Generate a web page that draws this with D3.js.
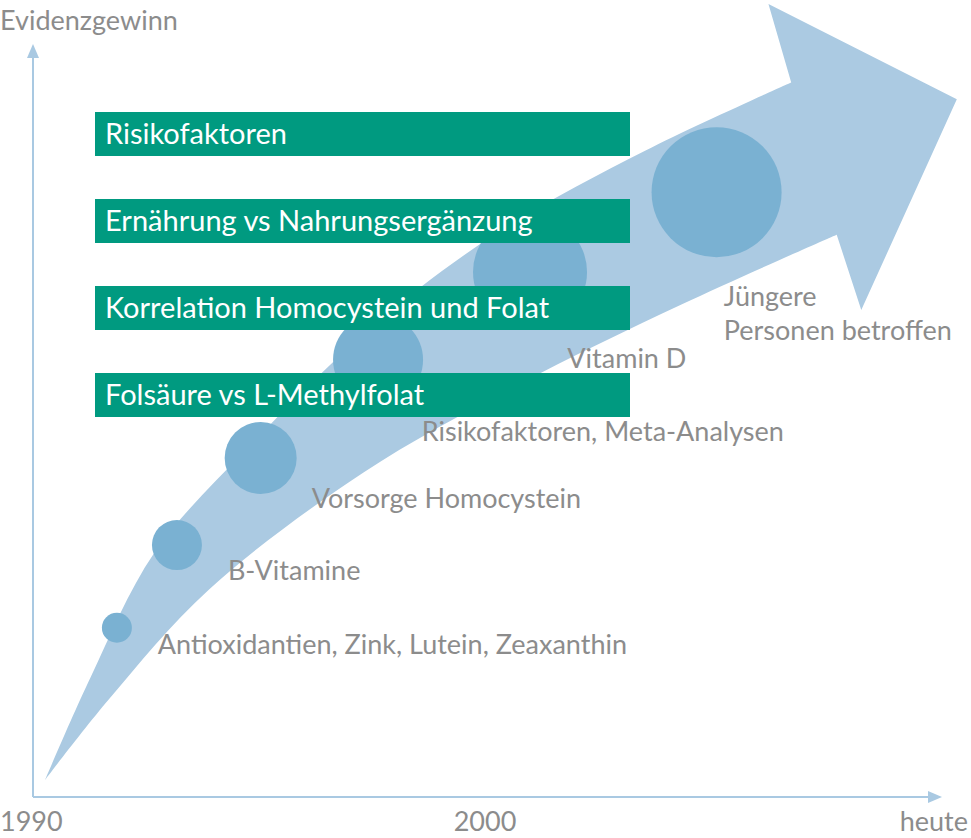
<!DOCTYPE html>
<html><head><meta charset="utf-8">
<script src="https://cdn.jsdelivr.net/npm/d3@7"></script>
<style>body{margin:0;background:#fff}text{font-family:"Source Sans Pro",Lato,sans-serif}</style>
</head><body><div id="chart"></div>
<script>
// data in pixel-free units: x = time position (0..100), y = evidence (0..100)
const upperEdge = [[0,0],[5,14],[12,31],[22,45],[36,62],[50,75],[66,86],[82,95.3]];
const lowerEdge = [[0,0],[7,11],[18,26],[35,42],[52,54],[70,65],[87,74.5]];
const arrowHead = [[82,95.3],[79.5,106],[100.2,93],[89.7,64.2],[87,74.5]];
const circles = [[7.9,20.8,15],[14.5,32.1,25],[23.7,44,36],[36.6,57.4,45],[53.3,69.4,57],[73.8,80.3,65]];
const circleLabels = [
  {x:12.4, y:17.2, lines:["Antioxidantien, Zink, Lutein, Zeaxanthin"]},
  {x:20.1, y:27.3, lines:["B-Vitamine"]},
  {x:29.3, y:37.2, lines:["Vorsorge Homocystein"]},
  {x:41.4, y:46.3, lines:["Risikofaktoren, Meta-Analysen"]},
  {x:57.4, y:56.3, lines:["Vitamin D"]},
  {x:74.6, y:64.8, lines:["Jüngere","Personen betroffen"]}
];
const bars = ["Risikofaktoren","Ernährung vs Nahrungsergänzung","Korrelation Homocystein und Folat","Folsäure vs L-Methylfolat"];
const tickLabels = ["1990","2000","heute"];

const W=971,H=838;
const x=d3.scaleLinear().domain([0,100]).range([45,955]);
const y=d3.scaleLinear().domain([0,100]).range([780,48]);
const svg=d3.select("#chart").append("svg").attr("width",W).attr("height",H);

const line=d3.line().x(d=>x(d[0])).y(d=>y(d[1])).curve(d3.curveCatmullRom);
const pathU=line(upperEdge);
const pathL=line(lowerEdge.slice().reverse());
const head=arrowHead.slice(1,4).map(d=>"L"+x(d[0])+","+y(d[1])).join("");
svg.append("path").attr("d",pathU+head+"L"+pathL.slice(1)+"Z").attr("fill","#abcae2");

svg.selectAll("circle.c").data(circles).enter().append("circle")
  .attr("cx",d=>x(d[0])).attr("cy",d=>y(d[1])).attr("r",d=>d[2]).attr("fill","#7ab1d2");

circleLabels.forEach(l=>{
  const t=svg.append("text").attr("x",x(l.x)).attr("y",y(l.y)).attr("font-size",27).attr("fill","#8c8c8c");
  l.lines.forEach((s,i)=>t.append("tspan").attr("x",x(l.x)).attr("dy",i?34:0).text(s));
});

bars.forEach((b,i)=>{
  const top=112+i*87;
  svg.append("rect").attr("x",95).attr("y",top).attr("width",535).attr("height",44).attr("fill","#009a80");
  svg.append("text").attr("x",105).attr("y",top+32).attr("font-size",29).attr("fill","#fff").text(b);
});

// axes
const ax="#a9c9e2";
svg.append("line").attr("x1",33).attr("y1",797).attr("x2",33).attr("y2",52).attr("stroke",ax).attr("stroke-width",2);
svg.append("path").attr("d","M27,58L33,44L39,58Z").attr("fill",ax);
svg.append("line").attr("x1",33).attr("y1",797).attr("x2",934).attr("y2",797).attr("stroke",ax).attr("stroke-width",2);
svg.append("path").attr("d","M928,791L942,797L928,803Z").attr("fill",ax);
svg.append("text").attr("x",0).attr("y",30).attr("font-size",27).attr("fill","#8c8c8c").text("Evidenzgewinn");
const tx=[0,485,968], ta=["start","middle","end"];
tickLabels.forEach((t,i)=>svg.append("text").attr("x",tx[i]).attr("y",831).attr("text-anchor",ta[i])
  .attr("font-size",27).attr("fill","#8c8c8c").text(t));
</script></body></html>
